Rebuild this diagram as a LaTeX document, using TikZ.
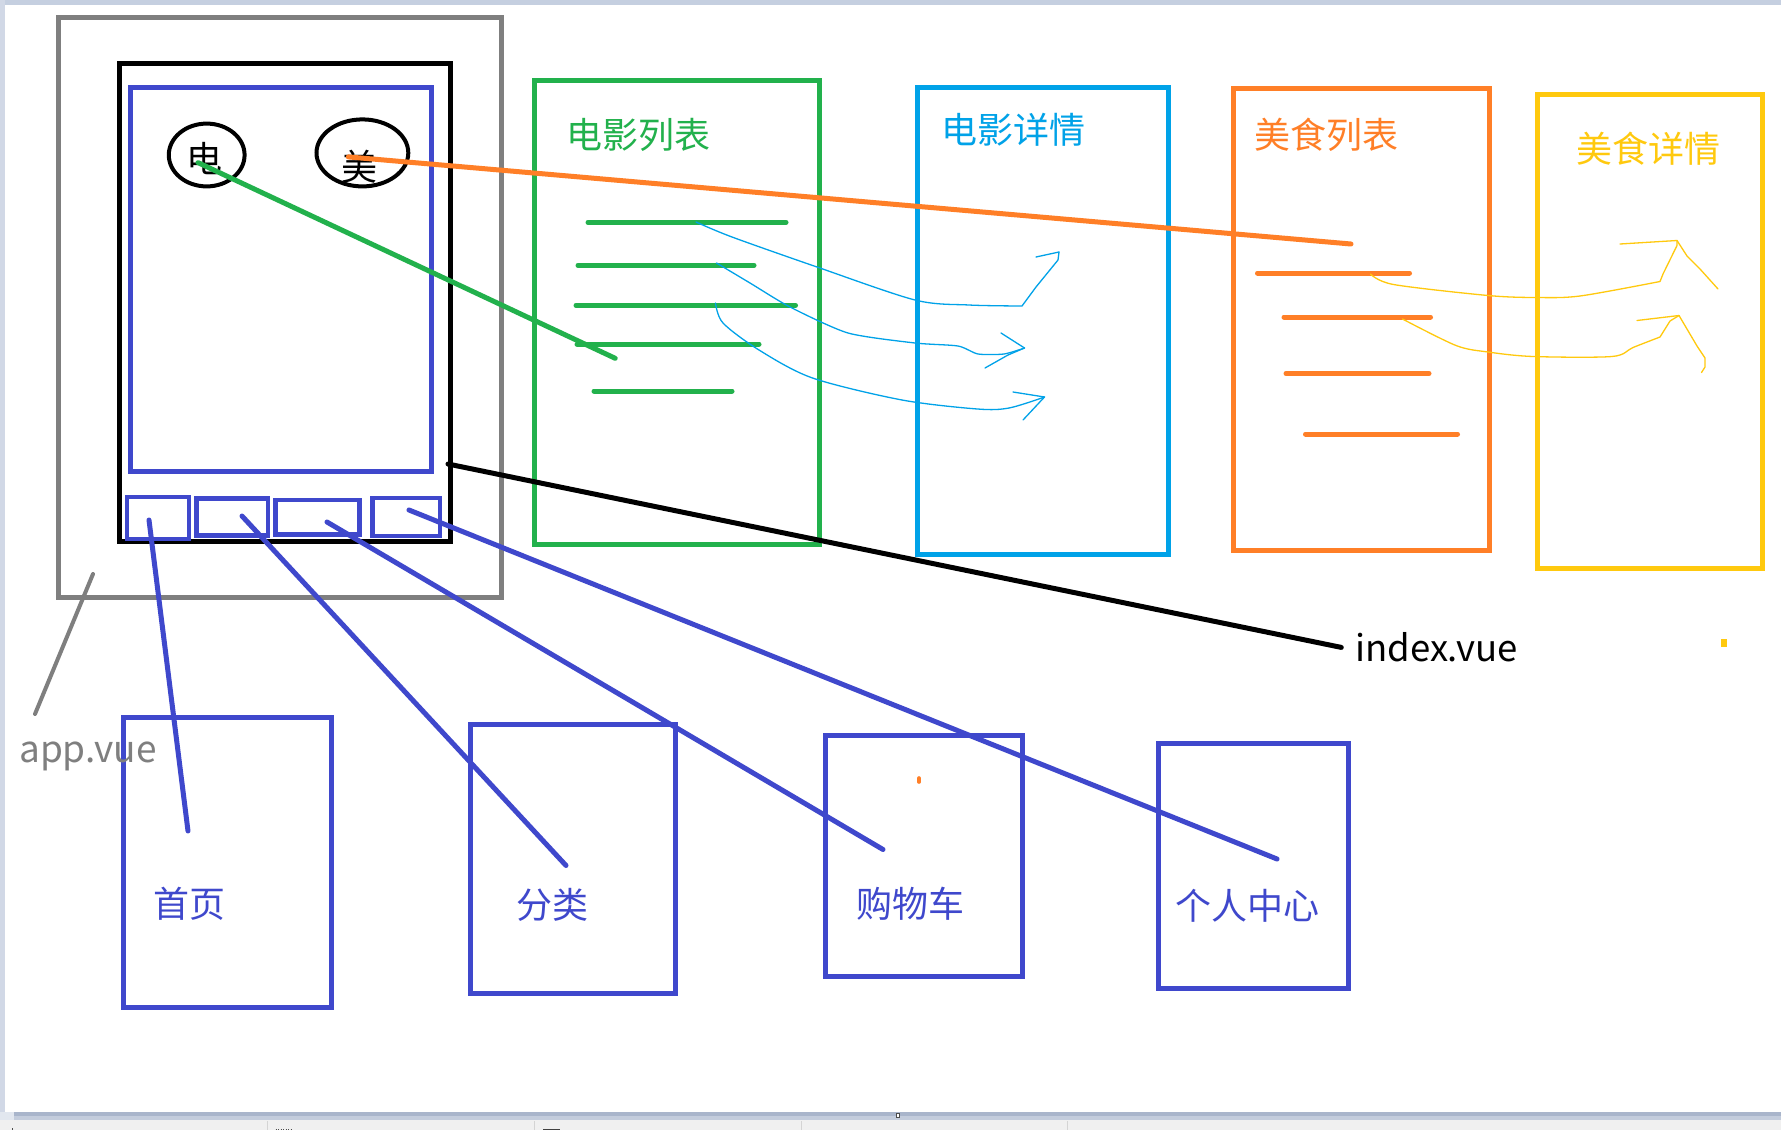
\documentclass[tikz,border=0pt]{standalone}
\usepackage{fontspec}
\setmainfont{Noto Sans CJK SC}
\usetikzlibrary{fit,shapes.geometric}
\definecolor{pgray}{HTML}{7F7F7F}
\definecolor{pblue}{HTML}{3F48CC}
\definecolor{pgreen}{HTML}{22B14C}
\definecolor{pcyan}{HTML}{00A2E8}
\definecolor{porange}{HTML}{FF7F27}
\definecolor{pyellow}{HTML}{FFC90E}
\definecolor{winedge}{HTML}{C5CFE0}
\definecolor{winbarA}{HTML}{A9B5CB}
\definecolor{winbarB}{HTML}{C3CCDC}
\definecolor{winstat}{HTML}{F0F0F0}
\definecolor{winsep}{HTML}{D4D4D4}
\tikzset{
  frame/.style={draw, line width=5pt, inner sep=0pt, outer sep=0pt},
  tabbox/.style={draw=pblue, line width=4.5pt, inner sep=0pt, outer sep=0pt},
  oval/.style={draw, ellipse, line width=4pt, inner sep=0pt, outer sep=0pt},
  lbl/.style={inner sep=0pt, outer sep=0pt, font=\fontsize{36}{40}\selectfont},
  wire/.style={line width=5pt, line cap=round},
  bar/.style={line width=5pt, line cap=round},
  sketch/.style={line width=1.3pt, line cap=round, line join=round},
}
\begin{document}
\begin{tikzpicture}[x=1pt, y=-1pt]
\useasboundingbox (0,0) rectangle (1781,1130);
% window background
\fill[white] (0,0) rectangle (1781,1130);
\fill[winedge] (0,0) rectangle (1781,5);
\fill[winedge!80!white] (0,0) rectangle (5,1112);
\fill[winbarA] (14,1112) rectangle (1781,1116);
\fill[winbarB] (14,1116) rectangle (1781,1120);
\fill[winedge!50!white] (0,1112) rectangle (14,1120);
\fill[winstat] (0,1120) rectangle (1781,1130);
\foreach \sx in {267,534,801,1067} \draw[winsep, line width=1pt] (\sx,1121) -- (\sx,1130);
\draw[black!70, line width=0.8pt, fill=white] (896.5,1113) rectangle (899.5,1117);
\draw[black!70, line width=0.8pt] (12.6,1128) -- (12.6,1130);
\draw[black!70, line width=1pt, dash pattern=on 1pt off 1.5pt] (275.5,1129.5) -- (293,1129.5);
\fill[black!75] (542.5,1128.5) rectangle (560,1130);

% outer frames
\node[frame, draw=pgray, fit={(58.5,17.5) (501,597)}] (app) {};
\node[frame, draw=black, fit={(119.8,63.5) (450.3,541)}] (index) {};
\node[frame, draw=pblue, fit={(130.5,87.5) (431,471.4)}] (view) {};
\node[tabbox, fit={(127,497) (189,539)}] (tab1) {};
\node[tabbox, fit={(196.3,498.3) (268,535.4)}] (tab2) {};
\node[tabbox, fit={(275.5,500.2) (359.7,534.6)}] (tab3) {};
\node[tabbox, fit={(372.4,498) (440,536)}] (tab4) {};
\node[oval, minimum width=75.8pt, minimum height=62.8pt] (cMovie) at (206.7,155) {};
\node[oval, minimum width=91.8pt, minimum height=67pt] (cFood) at (362.4,152.9) {};

% page frames
\node[frame, draw=pgreen, fit={(534.5,80.5) (819.5,544.5)}] (mlist) {};
\node[frame, draw=pcyan, fit={(917.5,87) (1168,554.4)}] (mdetail) {};
\node[frame, draw=porange, fit={(1233.4,88.2) (1489.2,550.3)}] (flist) {};
\node[frame, draw=pyellow, fit={(1537.5,94.5) (1762.5,568.5)}] (fdetail) {};

\node[frame, draw=pblue, fit={(123.4,717) (331.8,1007.2)}] (home) {};
\node[frame, draw=pblue, fit={(470.7,724.1) (675.7,993.2)}] (cat) {};
\node[frame, draw=pblue, fit={(825,735.8) (1022.8,976.9)}] (cart) {};
\node[frame, draw=pblue, fit={(1158.6,743) (1348.8,988.1)}] (me) {};

% list lines
\draw[bar, pgreen] (588,222.3) -- (786,222.3);
\draw[bar, pgreen] (578,265.3) -- (754,265.3);
\draw[bar, pgreen] (576,305.3) -- (795.5,305.3);
\draw[bar, pgreen] (577,344) -- (759,344);
\draw[bar, pgreen] (594,391) -- (732,391);
\draw[bar, porange] (1257.5,273) -- (1409.5,273);
\draw[bar, porange] (1284,317) -- (1430.5,317);
\draw[bar, porange] (1286,373.5) -- (1429,373.5);
\draw[bar, porange] (1305.5,434) -- (1457.5,434);

% labels
\node[lbl, text=black] (tMovie) at (204,159) {电};
\node[lbl, text=black] (tFood) at (359.4,167) {美};
\node[lbl, text=pgreen] (tML) at (638,135) {电影列表};
\node[lbl, text=pcyan] (tMD) at (1013.5,130) {电影详情};
\node[lbl, text=porange] (tFL) at (1326.5,135) {美食列表};
\node[lbl, text=pyellow] (tFD) at (1648,148.5) {美食详情};
\node[lbl, text=pblue] (tHome) at (189.5,904) {首页};
\node[lbl, text=pblue] (tCat) at (552.5,904.5) {分类};
\node[lbl, text=pblue] (tCart) at (910,904) {购物车};
\node[lbl, text=pblue] (tMe) at (1247,906) {个人中心};
\node[inner sep=0pt, anchor=base west, font=\fontsize{36.5}{40}\selectfont] (tIndex) at (1355,661) {index.vue};
\node[inner sep=0pt, anchor=base west, text=pgray, font=\fontsize{37}{41}\selectfont] (tApp) at (19,762) {app.vue};

% connector end points
\coordinate (gS) at (198,162.6);   \coordinate (gE) at (615.2,358.3);
\coordinate (oS) at (348.3,156.9); \coordinate (oE) at (1351,244);
\coordinate (kS) at (448,464);     \coordinate (kE) at (1341.3,647.4);
\coordinate (aS) at (93,574);      \coordinate (aE) at (35,714);
\coordinate (b1S) at (149,520);    \coordinate (b1E) at (188,831);
\coordinate (b2S) at (242,516);    \coordinate (b2E) at (566,865.5);
\coordinate (b3S) at (327,522);    \coordinate (b3E) at (883,849.5);
\coordinate (b4S) at (409,510);    \coordinate (b4E) at (1277,859);

\draw[wire, pgreen] (gS) -- (gE);
\draw[wire, porange] (oS) -- (oE);
\draw[wire, black] (kS) -- (kE);
\draw[wire, pgray, line width=4pt] (aS) -- (aE);
\draw[wire, pblue] (b1S) -- (b1E);
\draw[wire, pblue] (b2S) -- (b2E);
\draw[wire, pblue] (b3S) -- (b3E);
\draw[wire, pblue] (b4S) -- (b4E);

% hand-drawn arrows (movie list -> movie detail)
\draw[sketch, pcyan] plot[smooth, tension=0.5] coordinates {(696,222) (732,237) (817,267) (915,300) (969,305) (1022,306)} -- (1036,287) -- (1058,260) -- (1059,252);
\draw[sketch, pcyan] (1036,257) -- (1059,252);
\draw[sketch, pcyan] plot[smooth, tension=0.4] coordinates {(716.5,263) (750,283) (790,307) (848,333) (915,343) (958,346) (978,354) (1004,354) (1024.5,348)};
\draw[sketch, pcyan] (1001,333) -- (1024.5,348) -- (1008,355) -- (985,368);
\draw[sketch, pcyan] plot[smooth, tension=0.5] coordinates {(715.5,303) (723,323) (759,350) (812.5,378) (902,400) (977.5,409) (1009,408) (1044.5,397)};
\draw[sketch, pcyan] (1013,392) -- (1044.5,397) -- (1023,420);

% hand-drawn arrows (food list -> food detail)
\draw[sketch, pyellow] plot[smooth, tension=0.5] coordinates {(1370.5,274) (1393.5,284.5) (1488,295.5) (1536,297.5) (1580,296) (1660,281.5)} -- (1663,274) -- (1677,245.5) -- (1677,240.5);
\draw[sketch, pyellow] (1620,244) -- (1677,240.5) -- (1687,256) -- (1700,269) -- (1718,289);
\draw[sketch, pyellow] plot[smooth, tension=0.5] coordinates {(1402.5,319) (1456,345.5) (1488,352) (1533,356.5) (1612,356.5) (1633,347.5) (1660,337)} -- (1670,321) -- (1679,315.5);
\draw[sketch, pyellow] (1637,320.5) -- (1679,315.5) -- (1697,346) -- (1705,358) -- (1705,367) -- (1701.5,372.5);

% stray dots
\draw[porange, line width=3.6pt, line cap=round] (919,778) -- (919,782);
\fill[pyellow] (1721,639) rectangle (1727.4,647);
\end{tikzpicture}
\end{document}
